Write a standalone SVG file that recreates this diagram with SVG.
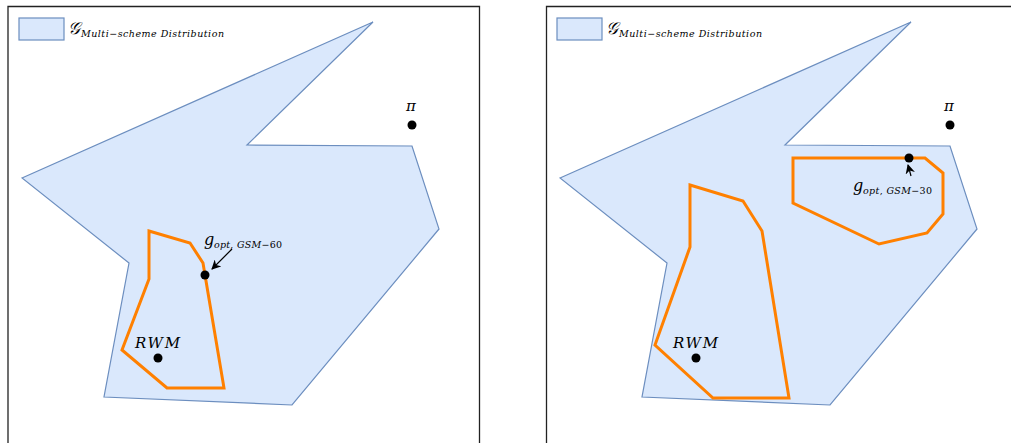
<svg xmlns="http://www.w3.org/2000/svg" width="1011" height="443" viewBox="0 0 1011 443">
<style>
.frame{fill:none;stroke:#222;stroke-width:1.3}
.region{fill:#dae8fc;stroke:#6c8ebf;stroke-width:1.2;stroke-linejoin:miter}
.opt{fill:none;stroke:#ff8000;stroke-width:3;stroke-linejoin:miter}
.dot{fill:#000}
.m{font-family:"DejaVu Serif","Liberation Serif",serif;font-style:italic;fill:#000}
.big{font-size:17px}
.sub{font-size:9.5px}
.arrow{stroke:#000;stroke-width:1.2;fill:none}
</style>
<defs>
<marker id="ah" viewBox="0 0 10 10" refX="9" refY="5" markerWidth="8" markerHeight="8" orient="auto">
<path d="M0,0 L10,5 L0,10 L3,5 Z" fill="#000"/>
</marker>
</defs>
<rect width="1011" height="443" fill="#fff"/>
<g id="left-panel">
<path class="frame" d="M8,450 V6.5 H479.5 V450"/>
<g id="legend-left">
<rect class="region" x="19" y="18" width="45" height="22"/>
<text class="m big" x="68" y="34" font-family="Liberation Serif,serif">𝒢</text>
<text class="m sub" x="81" y="37" textLength="143" lengthAdjust="spacing">Multi−scheme Distribution</text>
</g>
<polygon id="region-left" class="region" points="22,178 373,22 247,145 412,146 439,229 292,405 104,397 129,263"/>
<polygon id="opt-left" class="opt" points="149,231 190,243 203,263 205,275 224,388 167,388 122,350 149,279"/>
<g id="gopt-left">
<circle class="dot" cx="205" cy="275" r="4.5"/>
<text class="m" x="204" y="245" font-size="16">g</text>
<text class="m sub" x="214" y="248" textLength="68" lengthAdjust="spacing">opt<tspan font-style="normal">, </tspan>GSM<tspan font-style="normal">−60</tspan></text>
</g>
<g id="rwm-left">
<circle class="dot" cx="158" cy="358" r="4.5"/>
<text class="m" x="135" y="348" font-size="15" textLength="45" lengthAdjust="spacing">RWM</text>
</g>
<g id="pi-left">
<circle class="dot" cx="412" cy="125" r="4.5"/>
<text class="m" x="406" y="111" font-size="15">π</text>
</g>
</g>
<g id="right-panel">
<path class="frame" d="M546.5,450 V6.5 H1015"/>
<g id="legend-right">
<rect class="region" x="557" y="18" width="45" height="22"/>
<text class="m big" x="606" y="34" font-family="Liberation Serif,serif">𝒢</text>
<text class="m sub" x="619" y="37" textLength="143" lengthAdjust="spacing">Multi−scheme Distribution</text>
</g>
<polygon id="region-right" class="region" points="560,178 911,22 785,145 950,146 977,229 830,405 642,397 667,263"/>
<polygon id="opt-right-1" class="opt" points="690,185 743,201 762,231 789,398 713,398 655,345 690,247"/>
<polygon id="opt-right-2" class="opt" points="793,158 925,158 943,173 943,214 927,233 879,244 793,203"/>
<g id="gopt-right">
<circle class="dot" cx="909" cy="158" r="4.5"/>
<text class="m" x="853" y="191" font-size="16">g</text>
<text class="m sub" x="863" y="194" textLength="69" lengthAdjust="spacing">opt<tspan font-style="normal">, </tspan>GSM<tspan font-style="normal">−30</tspan></text>
</g>
<g id="rwm-right">
<circle class="dot" cx="696" cy="358" r="4.5"/>
<text class="m" x="673" y="348" font-size="15" textLength="45" lengthAdjust="spacing">RWM</text>
</g>
<g id="pi-right">
<circle class="dot" cx="950" cy="125" r="4.5"/>
<text class="m" x="944" y="111" font-size="15">π</text>
</g>
</g>
<g id="connectors">
<line class="arrow" x1="232" y1="249" x2="212" y2="269" marker-end="url(#ah)"/>
<line class="arrow" x1="911" y1="176" x2="908" y2="165" marker-end="url(#ah)"/>
</g>
</svg>
